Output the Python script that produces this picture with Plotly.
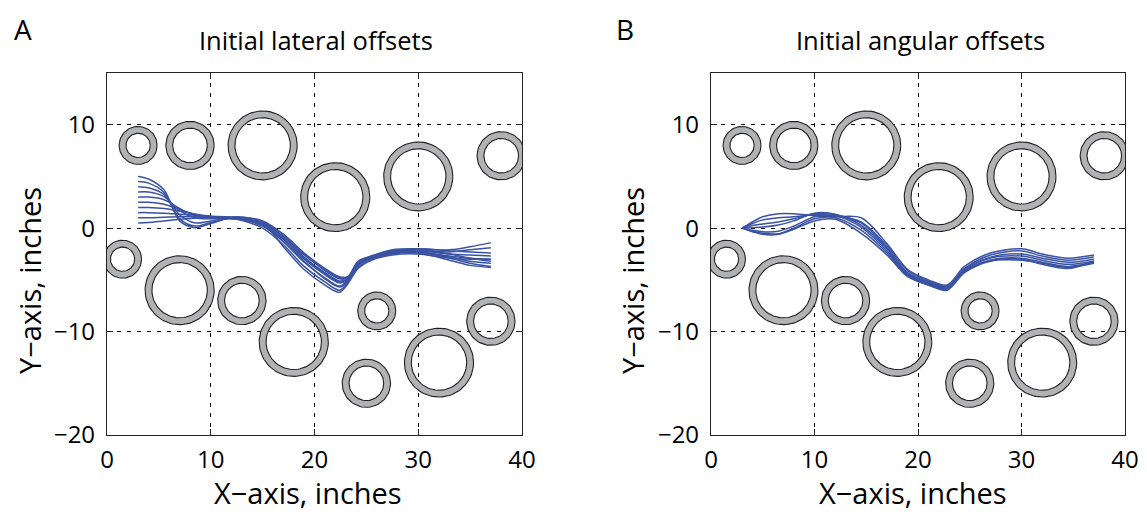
import numpy as np
import plotly.graph_objects as go

# the page body adds an 8px margin; the figure is sized/positioned to compensate
PAGE_W, PAGE_H = 1147, 514
OFF = 8
W, H = PAGE_W - OFF, PAGE_H - OFF

# ---- obstacle data (same in both panels) ----
circ_x = [3, 8, 15, 22, 30, 38, 1.5, 7, 13, 18, 26, 25, 32, 37]
circ_y = [8, 8, 8, 3, 5, 7, -3, -6, -7, -11, -8, -15, -13, -9]
circ_r = [1.5, 2, 3, 3, 3, 2, 1.5, 3, 2, 3, 1.5, 2, 3, 2]
wall = 0.33

# ---- panel A: initial lateral offsets ----
xa = [3, 4, 5.5, 7, 8.5, 10, 12.5, 15, 17, 19, 21, 22.4, 23.2, 24.2, 25.5, 27.5, 30, 33, 35, 37]
lat_lines = [
    [0.5, 0.55, 0.7, 0.85, 0.95, 1.0, 0.9, 0.5, -0.8, -2.6, -4.0, -4.8, -4.8, -3.3, -2.8, -2.2, -2.1, -2.5, -2.9, -3.2],
    [1.0, 1.0, 1.05, 1.1, 1.1, 1.1, 1.0, 0.6, -0.6, -2.4, -3.9, -4.7, -4.7, -3.2, -2.7, -2.1, -2.0, -2.2, -2.3, -2.4],
    [1.5, 1.5, 1.45, 1.35, 1.25, 1.15, 1.0, 0.3, -1.1, -3.0, -4.5, -5.3, -5.0, -3.5, -2.9, -2.4, -2.3, -2.9, -3.4, -3.7],
    [2.0, 2.0, 1.9, 1.65, 1.35, 1.15, 0.95, 0.2, -1.3, -3.3, -4.8, -5.6, -5.1, -3.6, -2.9, -2.4, -2.3, -2.8, -3.2, -3.4],
    [2.5, 2.5, 2.3, 1.8, 1.35, 1.05, 0.9, 0.4, -1.0, -2.9, -4.4, -5.2, -5.0, -3.4, -2.8, -2.3, -2.2, -2.5, -2.6, -2.7],
    [3.0, 3.0, 2.75, 1.9, 1.2, 0.95, 0.85, 0.0, -1.6, -3.7, -5.2, -6.0, -5.3, -3.8, -3.0, -2.5, -2.4, -3.1, -3.6, -3.8],
    [3.5, 3.5, 3.05, 1.7, 1.0, 0.9, 0.9, 0.3, -1.3, -3.2, -4.9, -5.7, -5.2, -3.6, -2.9, -2.4, -2.3, -2.7, -2.9, -3.0],
    [4.0, 3.9, 3.25, 1.3, 0.5, 0.7, 1.0, 0.6, -0.9, -2.8, -4.3, -5.1, -4.9, -3.4, -2.8, -2.3, -2.1, -2.3, -2.1, -1.9],
    [4.5, 4.35, 3.45, 0.9, 0.2, 0.55, 1.05, 0.7, -0.6, -2.5, -4.1, -4.9, -4.8, -3.3, -2.7, -2.2, -2.0, -2.1, -1.8, -1.4],
    [5.0, 4.75, 3.7, 0.7, 0.05, 0.45, 1.1, 0.5, -1.8, -4.0, -5.5, -6.2, -5.4, -3.9, -3.1, -2.6, -2.5, -2.9, -3.0, -3.0],
]

# ---- panel B: initial angular offsets ----
xb = [3, 4, 5, 6.5, 8, 10, 12, 14.5, 17, 19, 21, 22.8, 24.5, 27, 30, 32, 34.5, 37]
ang_lines = [
    [0, 0.6, 1.1, 1.4, 1.4, 1.2, 1.1, 1.0, -1.5, -4.0, -5.0, -5.5, -3.7, -2.4, -2.0, -2.5, -2.9, -2.6],
    [0, 0.45, 0.8, 1.0, 1.1, 1.3, 1.2, 0.6, -1.7, -4.1, -5.1, -5.6, -3.9, -2.6, -2.2, -2.7, -3.1, -2.8],
    [0, 0.25, 0.4, 0.6, 0.9, 1.4, 1.3, 0.5, -1.9, -4.3, -5.2, -5.7, -4.0, -2.8, -2.5, -2.9, -3.3, -3.0],
    [0, 0.05, 0.1, 0.3, 0.7, 1.45, 1.35, 0.3, -2.0, -4.4, -5.3, -5.8, -4.1, -2.9, -2.7, -3.1, -3.5, -3.2],
    [0, -0.2, -0.35, -0.3, 0.2, 1.1, 1.2, 0.1, -2.2, -4.5, -5.4, -5.9, -4.2, -3.1, -2.9, -3.3, -3.7, -3.3],
    [0, -0.3, -0.5, -0.55, 0.0, 0.9, 1.0, -0.2, -2.4, -4.6, -5.5, -6.0, -4.3, -3.2, -3.1, -3.4, -3.8, -3.4],
    [0, -0.35, -0.6, -0.6, -0.1, 0.7, 0.85, -0.5, -2.6, -4.7, -5.5, -5.9, -4.2, -3.1, -3.0, -3.5, -3.9, -3.2],
]

titles = ["Initial lateral offsets", "Initial angular offsets"]
panel_letters = ["A", "B"]
x_ticks = [0, 10, 20, 30, 40]
y_ticks = [-20, -10, 0, 10]
y_tick_text = ["\u221220", "\u221210", "0", "10"]
x_title = "X\u2212axis, inches"
y_title = "Y\u2212axis, inches"

LINE_BLUE = "#3A52A3"
RING_GRAY = "#B1B2B4"
FONT = "Open Sans"

fig = go.Figure()

th = np.linspace(0, 2 * np.pi, 90)


def add_obstacles(xref, yref):
    fx, fy, ox, oy = [], [], [], []
    for cx, cy, r in zip(circ_x, circ_y, circ_r):
        ro, ri = r + wall, r - wall
        outer_x = cx + ro * np.cos(th)
        outer_y = cy + ro * np.sin(th)
        inner_x = cx + ri * np.cos(th[::-1])
        inner_y = cy + ri * np.sin(th[::-1])
        fx += list(outer_x) + list(inner_x) + [outer_x[0], None]
        fy += list(outer_y) + list(inner_y) + [outer_y[0], None]
        ox += list(outer_x) + [None] + list(inner_x) + [None]
        oy += list(outer_y) + [None] + list(inner_y) + [None]
    fig.add_trace(go.Scatter(x=fx, y=fy, mode="lines", fill="toself",
                             fillcolor=RING_GRAY, line=dict(width=0),
                             hoverinfo="skip", showlegend=False,
                             xaxis=xref, yaxis=yref))
    fig.add_trace(go.Scatter(x=ox, y=oy, mode="lines",
                             line=dict(color="#231F20", width=1.1),
                             hoverinfo="skip", showlegend=False,
                             xaxis=xref, yaxis=yref))


def add_paths(xs, lines, xref, yref):
    for ys in lines:
        fig.add_trace(go.Scatter(x=xs, y=ys, mode="lines",
                                 line=dict(color=LINE_BLUE, width=1.5,
                                           shape="spline", smoothing=0.9),
                                 hoverinfo="skip", showlegend=False,
                                 xaxis=xref, yaxis=yref))


add_obstacles("x", "y")
add_paths(xa, lat_lines, "x", "y")
add_obstacles("x2", "y2")
add_paths(xb, ang_lines, "x2", "y2")

# plot areas in page pixels
left_px = [(107, 522), (711, 1125)]
top_px, bot_px = 73, 435

axis_common = dict(
    showgrid=True, gridcolor="black", gridwidth=1, griddash="4px,6px",
    zeroline=False, showline=True, linecolor="#222222", linewidth=1.2,
    mirror="ticks", ticks="inside", ticklen=6, tickwidth=1.2, tickcolor="#222222",
    tickfont=dict(family=FONT, size=24, color="black"), automargin=False,
)


def fx_(px):
    return (px - OFF) / W


def fy_(py):
    return 1 - (py - OFF) / H


ydom = [fy_(bot_px), fy_(top_px)]
layout = dict(
    width=W, height=H, margin=dict(l=0, r=0, t=0, b=0, autoexpand=False),
    paper_bgcolor="white", plot_bgcolor="white", showlegend=False,
)
for i, (l, r) in enumerate(left_px):
    sx = "" if i == 0 else str(i + 1)
    layout["xaxis" + sx] = dict(axis_common, domain=[fx_(l), fx_(r)], range=[0, 40],
                                tickvals=x_ticks, ticktext=[str(v) for v in x_ticks],
                                anchor="y" + sx, ticklabelstandoff=3)
    layout["yaxis" + sx] = dict(axis_common, domain=ydom, range=[-20, 15],
                                tickvals=y_ticks, ticktext=y_tick_text,
                                anchor="x" + sx, ticklabelstandoff=6)
fig.update_layout(**layout)

ann = []
def px_ann(text, x, y, size, angle=0, xanchor="center", yanchor="middle"):
    ann.append(dict(text=text, x=fx_(x), y=fy_(y), xref="paper", yref="paper",
                    showarrow=False, textangle=angle, xanchor=xanchor, yanchor=yanchor,
                    font=dict(family=FONT, size=size, color="black")))

title_cx = [316, 920]
xlab_cx = [308, 913]
ylab_cx = [29, 632]
letter_x = [12, 614]
for i in range(2):
    px_ann(titles[i], title_cx[i], 40, 25.5)
    px_ann(x_title, xlab_cx[i], 492, 29)
    px_ann(y_title, ylab_cx[i], 281, 29, angle=-90)
    px_ann(panel_letters[i], letter_x[i], 8, 28, xanchor="left", yanchor="top")
fig.update_layout(annotations=ann)

fig.write_html("out.html")
